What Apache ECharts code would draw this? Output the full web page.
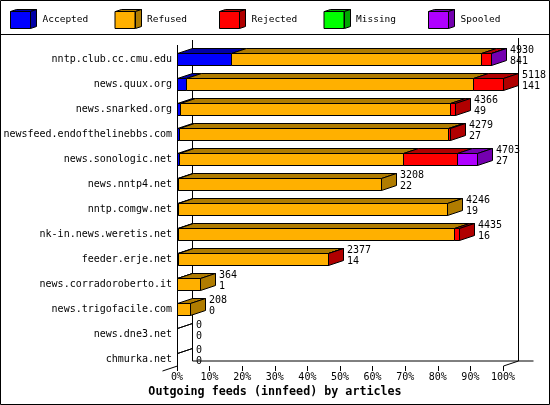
<!DOCTYPE html>
<html>
<head>
<meta charset="utf-8">
<style>
  html, body { margin: 0; padding: 0; background: #fff; }
  #chart { width: 550px; height: 405px; }
</style>
</head>
<body>
<div id="chart"></div>
<script src="https://cdn.jsdelivr.net/npm/echarts@6.0.0/dist/echarts.min.js"></script>
<script>
  const hosts = [
    'nntp.club.cc.cmu.edu', 'news.quux.org', 'news.snarked.org',
    'newsfeed.endofthelinebbs.com', 'news.sonologic.net', 'news.nntp4.net',
    'nntp.comgw.net', 'nk-in.news.weretis.net', 'feeder.erje.net',
    'news.corradoroberto.it', 'news.trigofacile.com', 'news.dne3.net', 'chmurka.net'
  ];
  const statusNames = ['Accepted', 'Refused', 'Rejected', 'Missing', 'Spooled'];

  const accepted = [841, 141, 49, 27, 27, 22, 19, 16, 14, 1, 0, 0, 0];
  const refused  = [3927, 4512, 4234, 4232, 3515, 3186, 4227, 4340, 2353, 363, 208, 0, 0];
  const rejected = [157, 465, 83, 20, 851, 0, 0, 79, 10, 0, 0, 0, 0];
  const missing  = [0, 0, 0, 0, 0, 0, 0, 0, 0, 0, 0, 0, 0];
  const spooled  = [5, 0, 0, 0, 310, 0, 0, 0, 0, 0, 0, 0, 0];

  const xTicks = [0, 10, 20, 30, 40, 50, 60, 70, 80, 90, 100];

  const frontColors = ['#0000ff', '#ffb000', '#ff0000', '#00ff00', '#b000ff'];
  const darkColors  = ['#0000a8', '#b07c00', '#b00000', '#00a800', '#7400b0'];

  const FONT = 'DejaVu Sans Mono';
  const DX = 15, DY = 5, HALF = 6;

  const parts = [accepted, refused, rejected, missing, spooled];
  const offered = hosts.map((h, i) => parts.reduce((s, arr) => s + arr[i], 0));
  const maxOffered = Math.max(...offered);
  const pct = v => v / maxOffered * 100;

  // last non-empty segment of each host gets the side face
  const lastPart = hosts.map((h, i) => {
    let last = -1;
    parts.forEach((arr, k) => { if (arr[i] > 0) last = k; });
    return last;
  });

  const chart = echarts.init(document.getElementById('chart'));

  function segmentItem(k) {
    return function (params, api) {
      const i = api.value(0);
      const s = api.value(1), e = api.value(2);
      const drawEmpty = offered[i] === 0 && k === 0;
      if (e <= s && !drawEmpty) return null;
      const p0 = api.coord([s, i]);
      const p1 = api.coord([e, i]);
      const x0 = Math.round(p0[0]) + 0.5, x1 = Math.round(p1[0]) + 0.5;
      const yt = Math.round(p0[1]) - HALF + 0.5, yb = Math.round(p0[1]) + HALF + 0.5;
      const line = { stroke: '#000', lineWidth: 1 };
      const children = [
        { type: 'polygon', shape: { points: [[x0, yt], [x1, yt], [x1 + DX, yt - DY], [x0 + DX, yt - DY]] },
          style: Object.assign({ fill: darkColors[k] }, line) },
        { type: 'polygon', shape: { points: [[x0, yt], [x1, yt], [x1, yb], [x0, yb]] },
          style: Object.assign({ fill: frontColors[k] }, line) }
      ];
      if (lastPart[i] === k) {
        children.push({ type: 'polygon',
          shape: { points: [[x1, yt], [x1 + DX, yt - DY], [x1 + DX, yb - DY], [x1, yb]] },
          style: Object.assign({ fill: darkColors[k] }, line) });
      }
      return { type: 'group', children: children };
    };
  }

  const barSeries = statusNames.map((name, k) => ({
    name: name,
    type: 'custom',
    clip: false,
    itemStyle: { color: frontColors[k] },
    renderItem: segmentItem(k),
    encode: { x: [1, 2], y: 0 },
    data: hosts.map((h, i) => {
      let start = 0;
      for (let j = 0; j < k; j++) start += parts[j][i];
      return [i, pct(start), pct(start + parts[k][i])];
    })
  }));

  // back walls and floor edges of the 3D box
  const frameSeries = {
    type: 'custom',
    silent: true,
    clip: false,
    data: [[0, 0]],
    renderItem: function (params, api) {
      const cs = params.coordSys;
      const xl = Math.round(api.coord([0, 0])[0]) + 0.5;
      const xr = Math.round(api.coord([100, 0])[0]) + 0.5;
      const yf = cs.y + cs.height - 5.5;
      const top = 45;
      const l = { stroke: '#000', lineWidth: 1 };
      const seg = (a, b, c, d) => ({ type: 'line', shape: { x1: a, y1: b, x2: c, y2: d }, style: l });
      return { type: 'group', children: [
        seg(xl, top, xl, yf),
        seg(xl + DX, top - DY, xl + DX, yf - DY),
        seg(xr + DX, top - DY - 2, xr + DX, yf - DY),
        seg(xl + DX, yf - DY, xr + 2 * DX, yf - DY),
        seg(xl - DX, yf + DY, xl, yf),
        seg(xr, yf, xr + DX, yf - DY)
      ] };
    }
  };

  const labelSeries = {
    type: 'custom',
    silent: true,
    clip: false,
    data: hosts.map((h, i) => [i, pct(offered[i])]),
    renderItem: function (params, api) {
      const i = api.value(0);
      const p = api.coord([api.value(1), i]);
      const x = Math.round(p[0]) + DX + 4;
      const y = Math.round(p[1]);
      const ts = { fill: '#000', fontFamily: FONT, fontSize: 10, align: 'left', verticalAlign: 'middle' };
      return { type: 'group', children: [
        { type: 'text', style: Object.assign({ text: String(offered[i]), x: x, y: y - 9 }, ts) },
        { type: 'text', style: Object.assign({ text: String(accepted[i]), x: x, y: y + 2 }, ts) }
      ] };
    }
  };

  const legends = statusNames.map((name, k) => ({
    show: true,
    left: 10 + 104.5 * k,
    top: 11,
    padding: 0,
    itemWidth: 20,
    itemHeight: 17,
    icon: 'rect',
    selectedMode: false,
    data: [{ name: name, itemStyle: { color: frontColors[k], borderColor: '#000', borderWidth: 1 } }],
    textStyle: { fontFamily: FONT, fontSize: 9.5, color: '#000', padding: [0, 0, 0, 7] }
  }));

  // darker sides of the legend cubes
  const legendCubes = statusNames.map((name, k) => {
    const x0 = 10.5 + Math.round(104.5 * k), y0 = 11.5, w = 20, h = 17;
    return {
      type: 'group', children: [
        { type: 'polygon', shape: { points: [[x0, y0], [x0 + w, y0], [x0 + w + 6, y0 - 2], [x0 + 6, y0 - 2]] },
          style: { fill: darkColors[k], stroke: '#000', lineWidth: 1 } },
        { type: 'polygon', shape: { points: [[x0 + w, y0], [x0 + w + 6, y0 - 2], [x0 + w + 6, y0 + h - 2], [x0 + w, y0 + h]] },
          style: { fill: darkColors[k], stroke: '#000', lineWidth: 1 } }
      ]
    };
  });

  const option = {
    animation: false,
    backgroundColor: '#fff',
    title: {
      text: 'Outgoing feeds (innfeed) by articles',
      left: 'center',
      top: 386,
      padding: 0,
      textStyle: { fontFamily: FONT, fontSize: 11.7, fontWeight: 'bold', color: '#000' }
    },
    legend: legends,
    graphic: [
      { type: 'rect', shape: { x: 0.5, y: 0.5, width: 549, height: 404 }, style: { fill: null, stroke: '#000', lineWidth: 1 }, silent: true },
      { type: 'line', shape: { x1: 0, y1: 34.5, x2: 550, y2: 34.5 }, style: { stroke: '#000', lineWidth: 1 }, silent: true }
    ].concat(legendCubes),
    grid: { left: 177, right: 47, top: 46.5, bottom: 33.5 },
    xAxis: {
      type: 'value',
      min: 0,
      max: 100,
      interval: 10,
      offset: -5.5,
      axisLine: { show: false },
      splitLine: { show: false },
      axisTick: { show: true, length: 5, lineStyle: { color: '#000' } },
      axisLabel: {
        margin: 6,
        fontFamily: FONT, fontSize: 10, color: '#000',
        formatter: v => xTicks.includes(v) ? v + '%' : ''
      }
    },
    yAxis: {
      type: 'category',
      inverse: true,
      data: hosts,
      axisLine: { show: false },
      axisTick: { show: false },
      splitLine: { show: false },
      axisLabel: { margin: 5, fontFamily: FONT, fontSize: 10, color: '#000' }
    },
    series: [frameSeries].concat(barSeries, [labelSeries])
  };

  chart.setOption(option);
</script>
</body>
</html>
